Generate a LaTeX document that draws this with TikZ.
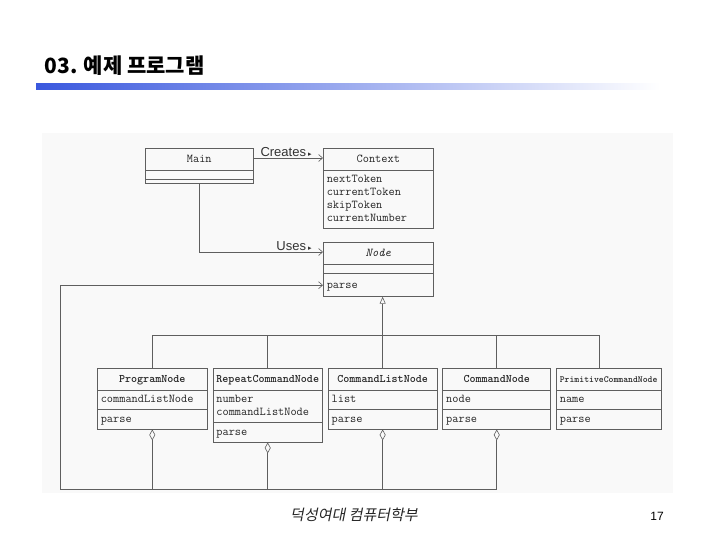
\documentclass[tikz,border=0pt]{standalone}
\usepackage{fontspec}
\newfontfamily\krfont{Noto Sans CJK KR}
\newfontfamily\krslant[FakeSlant=0.2]{Noto Sans CJK KR}
\newfontfamily\arialfont{Liberation Sans}
\newfontfamily\symfont{DejaVu Sans}
\usepackage{tikz}
\usetikzlibrary{arrows.meta,positioning,shapes.multipart}
\definecolor{barblue}{RGB}{58,88,222}
\definecolor{scan}{RGB}{249,249,249}
\definecolor{umlline}{RGB}{95,95,95}
\newcommand{\hstrut}{\rule[-5.5pt]{0pt}{17pt}}
\newcommand{\bstrut}{\rule[-4.5pt]{0pt}{15pt}}
\newcommand{\dstrut}{\rule[-4.5pt]{0pt}{4.5pt}}
\newcommand{\nostrut}{\hspace*{1pt}}
\tikzset{
    cls/.style={rectangle split, rectangle split parts=3, draw=umlline, line width=0.6pt, rectangle split part align={center,left,left}, inner xsep=3.5pt, inner ysep=2pt, font=\fontsize{12}{13}\selectfont\ttfamily, text=black!85},
    umlln/.style={draw=umlline, line width=0.6pt},
    assoc/.style={umlln, -{Straight Barb[length=4pt,width=7pt]}},
    inh/.style={umlln, -{Triangle[open,length=7pt,width=6pt]}},
    aggr/.style={umlln, {Diamond[open,length=11pt,width=6pt]}-},
    aggrnav/.style={umlln, {Diamond[open,length=11pt,width=6pt]}-{Straight Barb[length=4pt,width=7pt]}},
    lbl/.style={font=\fontsize{13}{14}\selectfont\arialfont, text=black!80, inner sep=1pt},
}
\begin{document}
\begin{tikzpicture}[x=1pt, y=-1pt]
    \useasboundingbox (0,0) rectangle (720,540);
    % slide header
    \node[anchor=base west, font=\fontsize{21}{24}\krfont\bfseries] (title) at (41,74) {03. 예제 프로그램};
    \shade[left color=barblue, right color=white] (36,84) rectangle (660,90);
    \fill[scan] (42,133) rectangle (673,493);

    % upper classes
    \node[cls, anchor=north west, minimum width=108pt] (main) at (145,148)
        {\hstrut Main \nodepart{two}\nostrut \nodepart{three}\nostrut};
    \node[cls, rectangle split parts=2, align=left, anchor=north west, minimum width=110pt] (ctx) at (323,148)
        {\hstrut Context \nodepart{two}\bstrut nextToken\\currentToken\\skipToken\\currentNumber\dstrut};
    \node[cls, anchor=north west, minimum width=110pt] (nodecls) at (323,242)
        {\hstrut\itshape Node \nodepart{two}\nostrut \nodepart{three}\rule[-6pt]{0pt}{19pt}parse};

    % subclasses
    \node[cls, anchor=north west, minimum width=110pt] (prog) at (97,368)
        {\hstrut\fontsize{11.5}{13}\selectfont\bfseries ProgramNode \nodepart{two}\bstrut commandListNode \nodepart{three}\bstrut parse};
    \node[cls, align=left, right=5pt of prog.north east, anchor=north west, minimum width=108pt] (rep)
        {\hstrut\fontsize{11.5}{13}\selectfont\bfseries RepeatCommandNode \nodepart{two}\bstrut number\\commandListNode\dstrut \nodepart{three}\bstrut parse};
    \node[cls, right=5pt of rep.north east, anchor=north west, minimum width=109pt] (clist)
        {\hstrut\fontsize{11.5}{13}\selectfont\bfseries CommandListNode \nodepart{two}\bstrut list \nodepart{three}\bstrut parse};
    \node[cls, right=5pt of clist.north east, anchor=north west, minimum width=108pt] (cmd)
        {\hstrut\fontsize{11.5}{13}\selectfont\bfseries CommandNode \nodepart{two}\bstrut node \nodepart{three}\bstrut parse};
    \node[cls, right=5pt of cmd.north east, anchor=north west, minimum width=103pt] (prim)
        {\hstrut\fontsize{9.3}{11}\selectfont\bfseries PrimitiveCommandNode \nodepart{two}\bstrut name \nodepart{three}\bstrut parse};

    \coordinate (primtop) at ([xshift=-9pt]prim.north);
    \coordinate (bar) at (0,335);
    \coordinate (bus) at (60,489);

    % associations
    \draw[assoc] ([yshift=-10pt]main.north east) -- ([yshift=-10pt]ctx.north west)
        node[pos=1, above left, xshift=-10pt, lbl] {Creates\,{\symfont\fontsize{7}{8}\selectfont ▸}};
    \draw[assoc] (main.south) |- ([yshift=-10pt]nodecls.north west)
        node[pos=1, above left, xshift=-10pt, lbl] {Uses\,{\symfont\fontsize{7}{8}\selectfont ▸}};

    % generalisation
    \draw[inh] (clist.north) -- (clist.north |- nodecls.south);
    \draw[umlln] (prog.north) |- (bar -| primtop) -- (primtop);
    \foreach \c in {rep,cmd}
        \draw[umlln] (\c.north) -- (\c.north |- bar);

    % aggregation back to Node
    \foreach \c in {prog,rep,clist}
        \draw[aggr] (\c.south) -- (\c.south |- bus);
    \draw[aggrnav] (cmd.south) |- (bus) |- ([yshift=11.5pt]nodecls.south west);

    % footer
    \node[font=\fontsize{15}{17}\krslant, text=black!85] (footer) at (354,515) {덕성여대 컴퓨터학부};
    \node[font=\fontsize{12}{14}\arialfont] (page) at (657,516) {17};
\end{tikzpicture}
\end{document}
